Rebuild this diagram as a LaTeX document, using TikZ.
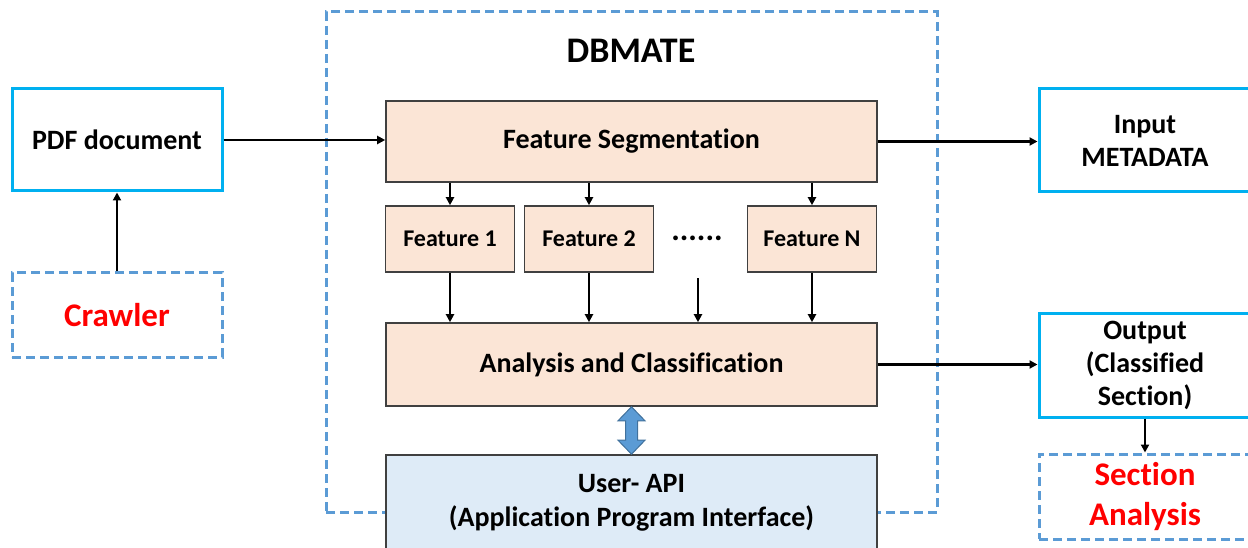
\documentclass[tikz,border=0pt]{standalone}
\usepackage{fontspec}
\setmainfont{Carlito}[Ligatures=NoCommon]
\usetikzlibrary{arrows.meta,calc}

\definecolor{cyanline}{HTML}{00B0F0}
\definecolor{dashblue}{HTML}{5B9BD5}
\definecolor{peach}{HTML}{FBE5D6}
\definecolor{paleblue}{HTML}{DEEBF7}
\definecolor{boxline}{HTML}{404040}
\definecolor{arrowfill}{HTML}{5B9BD5}
\definecolor{arrowedge}{HTML}{41719C}
\definecolor{alertred}{HTML}{FF0000}

\tikzset{
  basefont/.style={font=\fontsize{28}{33}\selectfont\bfseries},
  solidbox/.style={draw=cyanline, line width=3pt, fill=white, inner sep=0pt,
                   align=center, basefont},
  dashbox/.style={draw=dashblue, line width=3pt, dash pattern=on 9pt off 5pt,
                  inner sep=0pt, align=center,
                  font=\fontsize{33}{40}\selectfont\bfseries, text=alertred},
  procbox/.style={draw=boxline, line width=1.6pt, fill=peach, inner sep=0pt,
                  align=center, basefont},
  featbox/.style={procbox, minimum width=129pt, minimum height=66pt,
                  font=\fontsize{24}{28}\selectfont\bfseries},
  apibox/.style={draw=boxline, line width=1.6pt, fill=paleblue, inner sep=0pt,
                 align=center, font=\fontsize{28}{34}\selectfont\bfseries},
  container/.style={draw=dashblue, line width=3pt, dash pattern=on 9pt off 5pt,
                    inner sep=0pt},
  arr/.style={-{Triangle[length=8pt,width=8pt]}, line width=2.4pt, black},
  biarrow/.style={fill=arrowfill, draw=arrowedge, line width=1pt}
}

\begin{document}
\begin{tikzpicture}[x=1pt,y=-1pt]
  \useasboundingbox (0,0) rectangle (1248,548);
  \clip (0,0) rectangle (1248,548);

  % DBMATE system boundary
  \node[container, minimum width=611pt, minimum height=500pt] (dbmate) at (631.5,262) {};
  \node[font=\fontsize{36}{40}\selectfont\bfseries] (title) at (631,51) {DBMATE};

  % sources on the left
  \node[solidbox, minimum width=210pt, minimum height=102pt] (pdf) at (117,140) {PDF document};
  \node[dashbox, minimum width=210pt, minimum height=84pt] (crawler) at (117,315) {Crawler};

  % processing stages
  \node[procbox, minimum width=491pt, minimum height=81pt] (fs) at (631.5,141.5) {Feature Segmentation};
  \node[featbox] (f1) at (450,239) {Feature 1};
  \node[featbox] (f2) at (589,239) {Feature 2};
  \node[featbox] (fn) at (812,239) {Feature N};
  \node[font=\fontsize{32}{32}\selectfont\bfseries] (dots) at (697,238) {......};
  \coordinate (dotsout) at (698,278);
  \node[procbox, minimum width=491pt, minimum height=83pt] (ac) at (631.5,364.5) {Analysis and Classification};
  \node[apibox, minimum width=491pt, minimum height=96pt] (api) at (631.5,503) {User- API\\(Application Program Interface)};

  % results on the right
  \node[solidbox, minimum width=212pt, minimum height=103pt] (meta) at (1145,140.5) {Input\\METADATA};
  \node[solidbox, minimum width=212pt, minimum height=104pt] (out) at (1145,365) {Output\\(Classified\\Section)};
  \node[dashbox, minimum width=212pt, minimum height=85pt] (sect) at (1145,496.5) {Section\\Analysis};

  % connectors
  \draw[arr] (crawler.north) -- (pdf.south);
  \draw[arr] (pdf.east) -- (pdf.east -| fs.west);
  \draw[arr] (fs.east) -- (fs.east -| meta.west);
  \foreach \f in {f1,f2,fn} {
    \draw[arr] (\f.north |- fs.south) -- (\f.north);
    \draw[arr] (\f.south) -- (\f.south |- ac.north);
  }
  \draw[arr] (dotsout) -- (dotsout |- ac.north);
  \draw[arr] (ac.east) -- (ac.east -| out.west);
  \draw[arr] (out.south) -- (sect.north);

  % two-way link between classification and the user API
  \draw[biarrow] (ac.south) -- ($(ac.south)+(13.5,14)$) -- ($(ac.south)+(6,14)$)
    -- ($(api.north)+(6,-14)$) -- ($(api.north)+(13.5,-14)$) -- (api.north)
    -- ($(api.north)+(-13.5,-14)$) -- ($(api.north)+(-6,-14)$)
    -- ($(ac.south)+(-6,14)$) -- ($(ac.south)+(-13.5,14)$) -- cycle;
\end{tikzpicture}
\end{document}
